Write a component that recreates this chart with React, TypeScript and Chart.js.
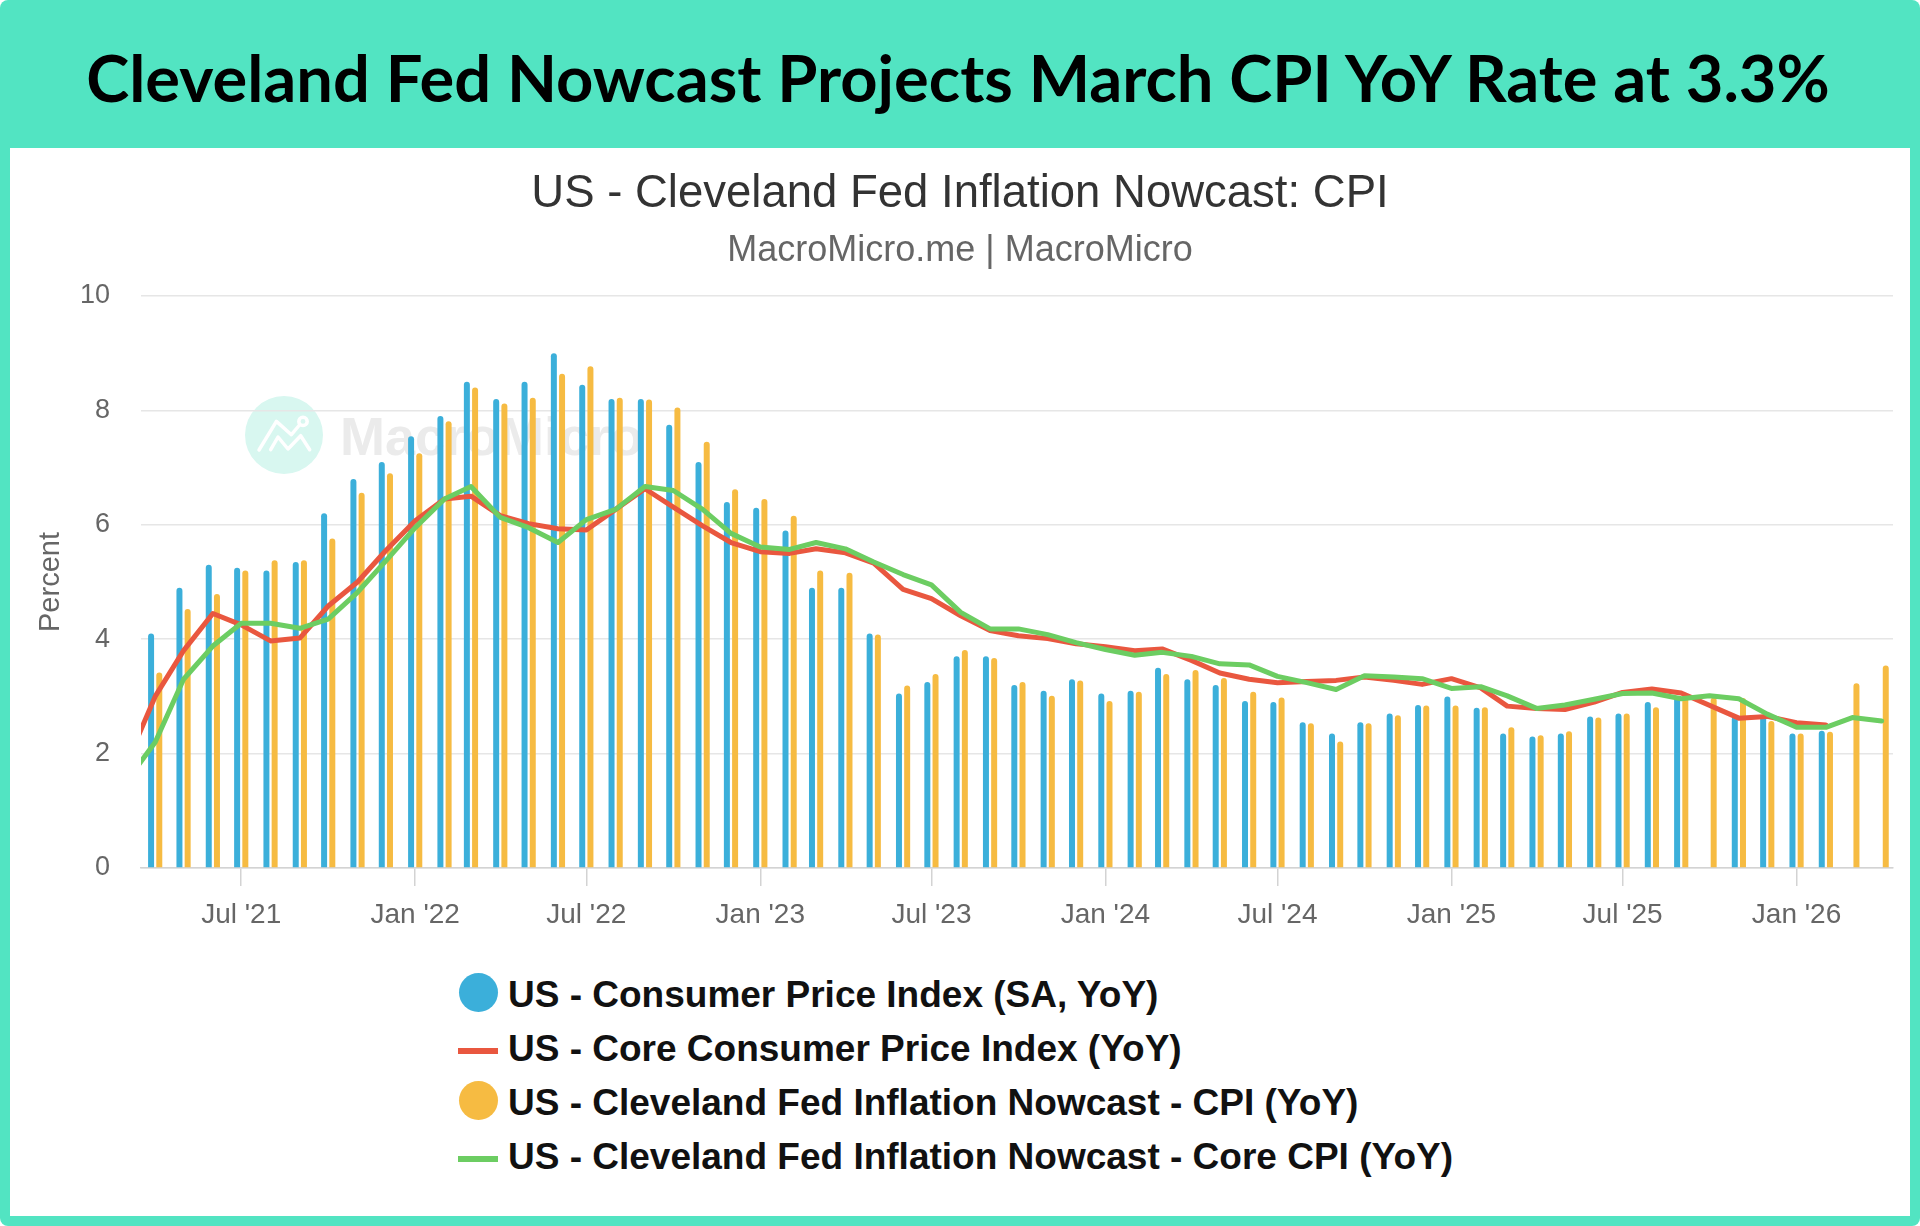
import React, { useEffect, useRef } from "react";
import { Chart, registerables } from "chart.js";

Chart.register(...registerables);

// ---------- data ----------
const months = [
  "2021-03", "2021-04", "2021-05", "2021-06", "2021-07", "2021-08", "2021-09", "2021-10", "2021-11", "2021-12",
  "2022-01", "2022-02", "2022-03", "2022-04", "2022-05", "2022-06", "2022-07", "2022-08", "2022-09", "2022-10", "2022-11", "2022-12",
  "2023-01", "2023-02", "2023-03", "2023-04", "2023-05", "2023-06", "2023-07", "2023-08", "2023-09", "2023-10", "2023-11", "2023-12",
  "2024-01", "2024-02", "2024-03", "2024-04", "2024-05", "2024-06", "2024-07", "2024-08", "2024-09", "2024-10", "2024-11", "2024-12",
  "2025-01", "2025-02", "2025-03", "2025-04", "2025-05", "2025-06", "2025-07", "2025-08", "2025-09", "2025-10", "2025-11", "2025-12",
  "2026-01", "2026-02", "2026-03", "2026-04",
];

const cpiSA = [
  null, 4.1, 4.9, 5.3, 5.25, 5.2, 5.35, 6.2, 6.8, 7.1,
  7.55, 7.9, 8.5, 8.2, 8.5, 9.0, 8.45, 8.2, 8.2, 7.75, 7.1, 6.4,
  6.3, 5.9, 4.9, 4.9, 4.1, 3.05, 3.25, 3.7, 3.7, 3.2, 3.1, 3.3,
  3.05, 3.1, 3.5, 3.3, 3.2, 2.92, 2.9, 2.55, 2.35, 2.55, 2.7, 2.85,
  3.0, 2.8, 2.35, 2.3, 2.35, 2.65, 2.7, 2.9, 3.0, null, 2.65, 2.65,
  2.35, 2.4, null, null,
];

const coreCPI = [
  1.8, 3.0, 3.8, 4.45, 4.25, 3.97, 4.02, 4.58, 5.0, 5.55,
  6.07, 6.45, 6.5, 6.16, 6.02, 5.93, 5.91, 6.27, 6.63, 6.31, 5.98, 5.69,
  5.53, 5.5, 5.58, 5.51, 5.33, 4.87, 4.71, 4.41, 4.15, 4.06, 4.01, 3.92,
  3.87, 3.8, 3.83, 3.63, 3.41, 3.3, 3.24, 3.26, 3.28, 3.34, 3.28, 3.21,
  3.31, 3.15, 2.83, 2.79, 2.77, 2.9, 3.07, 3.13, 3.06, null, 2.62, 2.65,
  2.54, 2.5, null, null,
];

const nowcastCPI = [
  null, 3.42, 4.53, 4.79, 5.2, 5.38, 5.38, 5.76, 6.56, 6.9,
  7.25, 7.81, 8.4, 8.12, 8.22, 8.64, 8.77, 8.22, 8.19, 8.05, 7.45, 6.62,
  6.45, 6.16, 5.2, 5.16, 4.08, 3.19, 3.39, 3.81, 3.67, 3.25, 3.01, 3.28,
  2.92, 3.08, 3.39, 3.46, 3.32, 3.08, 2.98, 2.53, 2.21, 2.53, 2.67, 2.84,
  2.84, 2.81, 2.46, 2.32, 2.39, 2.63, 2.7, 2.81, 2.98, 2.98, 2.97, 2.57,
  2.35, 2.38, 3.23, 3.54,
];

const nowcastCore = [
  1.5, 2.2, 3.3, 3.88, 4.28, 4.28, 4.19, 4.35, 4.82, 5.37,
  5.95, 6.45, 6.67, 6.13, 5.95, 5.69, 6.09, 6.27, 6.67, 6.6, 6.27, 5.85,
  5.61, 5.57, 5.69, 5.58, 5.35, 5.13, 4.95, 4.47, 4.18, 4.18, 4.08, 3.94,
  3.82, 3.72, 3.77, 3.7, 3.57, 3.55, 3.35, 3.24, 3.12, 3.36, 3.34, 3.31,
  3.14, 3.17, 3.01, 2.79, 2.85, 2.95, 3.05, 3.06, 2.96, 3.01, 2.96, 2.69,
  2.46, 2.46, 2.63, 2.57,
];

const tickMonths = [
  "2021-07", "2022-01", "2022-07", "2023-01", "2023-07",
  "2024-01", "2024-07", "2025-01", "2025-07", "2026-01",
];
const tickLabels = [
  "Jul '21", "Jan '22", "Jul '22", "Jan '23", "Jul '23",
  "Jan '24", "Jul '24", "Jan '25", "Jul '25", "Jan '26",
];
const yTicks = [0, 2, 4, 6, 8, 10];
const xStart = "2021-03-17";
const xEnd = "2026-04-13";

const seriesLabels = [
  "US - Consumer Price Index (SA, YoY)",
  "US - Core Consumer Price Index (YoY)",
  "US - Cleveland Fed Inflation Nowcast - CPI (YoY)",
  "US - Cleveland Fed Inflation Nowcast - Core CPI (YoY)",
];
const seriesColors = ["#3BAFDA", "#E9573F", "#F6BB42", "#6CCD62"];
const seriesKinds = ["bar", "line", "bar", "line"];

const headline = "Cleveland Fed Nowcast Projects March CPI YoY Rate at 3.3%";
const chartTitle = "US - Cleveland Fed Inflation Nowcast: CPI";
const chartSubtitle = "MacroMicro.me | MacroMicro";
const yTitle = "Percent";

// ---------- helpers ----------
const toMs = (s: string) => {
  const [y, m, d] = s.split("-").map(Number);
  return Date.UTC(y, m - 1, d || 1);
};
const series = (vals: (number | null)[]) =>
  months.map((m, i) => ({ x: toMs(m), y: vals[i] }));

const FONT = "'Liberation Sans', Arial, Helvetica, sans-serif";

const watermark = {
  id: "watermark",
  beforeDraw(chart: any) {
    const ctx = chart.ctx;
    ctx.save();
    const cx = 274;
    const cy = 287;
    ctx.fillStyle = "#d8f7f0";
    ctx.beginPath();
    ctx.arc(cx, cy, 39, 0, Math.PI * 2);
    ctx.fill();
    ctx.strokeStyle = "#ffffff";
    ctx.lineWidth = 3.5;
    ctx.lineJoin = "round";
    ctx.lineCap = "round";
    ctx.beginPath();
    ctx.moveTo(cx - 25, cy + 15);
    ctx.lineTo(cx - 7.6, cy - 13.6);
    ctx.lineTo(cx + 7.4, cy - 0.3);
    ctx.lineTo(cx + 15.5, cy - 10);
    ctx.stroke();
    ctx.beginPath();
    ctx.arc(cx + 19, cy - 13.6, 4.2, 0, Math.PI * 2);
    ctx.stroke();
    ctx.beginPath();
    ctx.moveTo(cx - 13.3, cy + 14.7);
    ctx.lineTo(cx - 6, cy + 2);
    ctx.lineTo(cx + 4, cy + 14);
    ctx.lineTo(cx + 16.7, cy + 0.7);
    ctx.lineTo(cx + 25.7, cy + 14.7);
    ctx.stroke();
    ctx.fillStyle = "#ebebeb";
    ctx.font = `bold 54px ${FONT}`;
    ctx.textBaseline = "alphabetic";
    ctx.textAlign = "left";
    ctx.fillText("MacroMicro", 330, 307);
    ctx.restore();
  },
};

export default function App() {
  const ref = useRef<HTMLCanvasElement>(null);

  useEffect(() => {
    if (!ref.current) return;
    const chart = new Chart(ref.current, {
      type: "bar",
      data: {
        datasets: [
          {
            type: "bar",
            label: seriesLabels[0],
            data: series(cpiSA) as any,
            backgroundColor: seriesColors[0],
            categoryPercentage: 0.62,
            barPercentage: 0.73,
            borderRadius: { topLeft: 3, topRight: 3, bottomLeft: 0, bottomRight: 0 },
            borderSkipped: "bottom",
            order: 3,
          },
          {
            type: "line",
            label: seriesLabels[1],
            data: series(coreCPI) as any,
            borderColor: seriesColors[1],
            backgroundColor: seriesColors[1],
            borderWidth: 5,
            pointRadius: 0,
            pointHoverRadius: 0,
            tension: 0,
            spanGaps: true,
            borderJoinStyle: "round",
            borderCapStyle: "round",
            order: 1,
          },
          {
            type: "bar",
            label: seriesLabels[2],
            data: series(nowcastCPI) as any,
            backgroundColor: seriesColors[2],
            categoryPercentage: 0.62,
            barPercentage: 0.73,
            borderRadius: { topLeft: 3, topRight: 3, bottomLeft: 0, bottomRight: 0 },
            borderSkipped: "bottom",
            order: 3,
          },
          {
            type: "line",
            label: seriesLabels[3],
            data: series(nowcastCore) as any,
            borderColor: seriesColors[3],
            backgroundColor: seriesColors[3],
            borderWidth: 5,
            pointRadius: 0,
            pointHoverRadius: 0,
            tension: 0,
            spanGaps: true,
            borderJoinStyle: "round",
            borderCapStyle: "round",
            order: 0,
          },
        ],
      },
      options: {
        animation: false,
        responsive: true,
        maintainAspectRatio: false,
        events: [],
        layout: { padding: { top: 148, right: 17, left: 0, bottom: 0 } },
        plugins: {
          legend: { display: false },
          tooltip: { enabled: false },
          title: { display: false },
        },
        scales: {
          x: {
            type: "linear",
            min: toMs(xStart),
            max: toMs(xEnd),
            offset: false,
            afterFit: (s: any) => {
              s.height = 80;
            },
            afterBuildTicks: (s: any) => {
              s.ticks = tickMonths.map((m) => ({ value: toMs(m) }));
            },
            grid: {
              display: true,
              offset: false,
              drawOnChartArea: false,
              drawTicks: true,
              tickLength: 18,
              color: "#d3d3d3",
              lineWidth: 1.5,
            },
            border: { display: true, color: "#d3d3d3", width: 1.5 },
            ticks: {
              autoSkip: false,
              maxRotation: 0,
              padding: 12,
              color: "#666666",
              font: { family: FONT, size: 28 },
              callback: (v: any) => {
                const i = tickMonths.findIndex((m) => toMs(m) === v);
                return i >= 0 ? tickLabels[i] : "";
              },
            },
          },
          y: {
            type: "linear",
            min: 0,
            max: 10,
            afterFit: (s: any) => {
              s.width = 131;
            },
            afterBuildTicks: (s: any) => {
              s.ticks = yTicks.map((v) => ({ value: v }));
            },
            grid: {
              color: "#e6e6e6",
              lineWidth: 1.5,
              drawTicks: false,
            },
            border: { display: false },
            ticks: {
              padding: 31,
              color: "#666666",
              font: { family: FONT, size: 27 },
            },
            title: {
              display: true,
              text: yTitle,
              color: "#666666",
              font: { family: FONT, size: 29 },
              padding: { top: 24, bottom: 0 },
            },
          },
        },
      },
      plugins: [watermark],
    } as any);
    return () => chart.destroy();
  }, []);

  return (
    <div
      style={{
        position: "fixed",
        left: 0,
        top: 0,
        width: 1920,
        height: 1226,
        background: "#ffffff",
        overflow: "hidden",
      }}
    >
      <div
        style={{
          position: "absolute",
          left: 0,
          top: 0,
          width: 1920,
          height: 1226,
          background: "#52e4c2",
          borderRadius: 8,
        }}
      />
      <div
        style={{
          position: "absolute",
          left: 10,
          top: 148,
          width: 1900,
          height: 1068,
          background: "#ffffff",
        }}
      />
      <div
        style={{
          position: "absolute",
          left: 0,
          top: 38,
          width: 1916,
          textAlign: "center",
          fontFamily: "Lato, sans-serif",
          fontWeight: 700,
          fontSize: 65,
          lineHeight: "78px",
          color: "#000000",
          whiteSpace: "nowrap",
        }}
      >
        {headline}
      </div>
      <div
        style={{
          position: "absolute",
          left: 10,
          top: 148,
          width: 1900,
          height: 800,
        }}
      >
        <canvas ref={ref} />
      </div>
      <div
        style={{
          position: "absolute",
          left: 0,
          top: 169,
          width: 1920,
          textAlign: "center",
          fontFamily: FONT,
          fontSize: 45.5,
          lineHeight: "45px",
          color: "#333333",
          whiteSpace: "nowrap",
        }}
      >
        {chartTitle}
      </div>
      <div
        style={{
          position: "absolute",
          left: 0,
          top: 231,
          width: 1920,
          textAlign: "center",
          fontFamily: FONT,
          fontSize: 36,
          lineHeight: "36px",
          color: "#666666",
          whiteSpace: "nowrap",
        }}
      >
        {chartSubtitle}
      </div>
      {seriesLabels.map((label, i) => (
        <div
          key={label}
          style={{
            position: "absolute",
            left: 458,
            top: 968 + i * 54,
            height: 54,
            display: "flex",
            alignItems: "center",
            whiteSpace: "nowrap",
          }}
        >
          {seriesKinds[i] === "bar" ? (
            <div
              style={{
                width: 39,
                height: 39,
                borderRadius: "50%",
                background: seriesColors[i],
                marginLeft: 1,
                marginRight: 10,
                position: "relative",
                top: -3,
              }}
            />
          ) : (
            <div
              style={{
                width: 40,
                height: 6,
                background: seriesColors[i],
                marginRight: 10,
                position: "relative",
                top: 2,
              }}
            />
          )}
          <span
            style={{
              fontFamily: FONT,
              fontWeight: 700,
              fontSize: 37,
              lineHeight: "54px",
              color: "#111111",
            }}
          >
            {label}
          </span>
        </div>
      ))}
    </div>
  );
}
